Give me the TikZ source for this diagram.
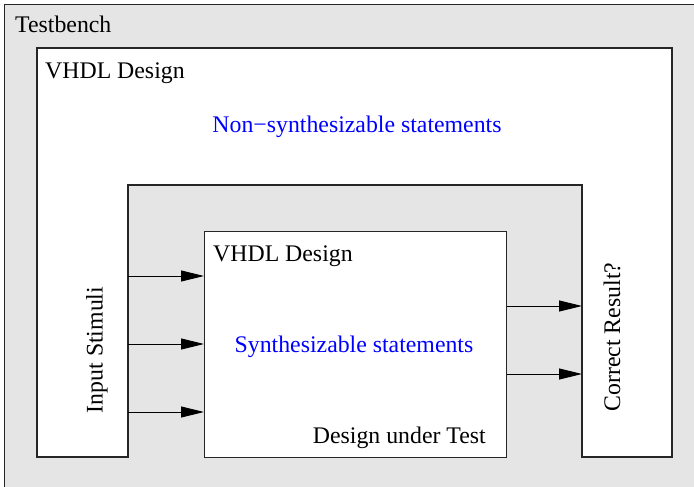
\documentclass[tikz,border=0pt]{standalone}
\usepackage{fontspec}
\setmainfont{Liberation Serif}
\usetikzlibrary{arrows.meta}
\definecolor{bggray}{HTML}{E5E5E5}
\definecolor{lblblue}{RGB}{0,0,255}
\begin{document}
\begin{tikzpicture}[x=1pt,y=-1pt,
  boxline/.style={draw=black!85, line width=1.1pt},
  lbl/.style={inner sep=0pt, font=\fontsize{23.8}{28}\selectfont},
  bluelbl/.style={lbl, text=lblblue},
  sig/.style={draw=black, line width=1pt, -{Triangle[length=23pt,width=11pt]}}]
\useasboundingbox (0,0) rectangle (694,487);
% testbench (extends past the right and bottom edges)
\node[boxline, fill=bggray, minimum width=700pt, minimum height=495pt, anchor=north west, inner sep=0pt] (tb) at (4,4) {};
% outer VHDL design (U-shaped white area)
\coordinate (o1) at (37,48);
\coordinate (o2) at (672,48);
\coordinate (o3) at (672,457);
\coordinate (o4) at (582,457);
\coordinate (o5) at (582,185);
\coordinate (o6) at (128,185);
\coordinate (o7) at (128,457);
\coordinate (o8) at (37,457);
\draw[boxline, fill=white] (o1) -- (o2) -- (o3) -- (o4) -- (o5) -- (o6) -- (o7) -- (o8) -- cycle;
% design under test
\node[boxline, fill=white, minimum width=302pt, minimum height=226pt, anchor=north west, inner sep=0pt] (dut) at (204,231) {};
% labels
\node[lbl, anchor=base west] (ltb) at (15,33) {Testbench};
\node[lbl, anchor=base west] (lvo) at (45,79) {VHDL Design};
\node[bluelbl] (lns) at (357,127) {Non−synthesizable statements};
\node[lbl, anchor=base west] (lvi) at (213,261) {VHDL Design};
\node[bluelbl, anchor=base] (lsy) at (354,352) {Synthesizable statements};
\node[lbl, anchor=base east] (ldut) at (486,443) {Design under Test};
\node[lbl, rotate=90] (lin) at (97,350) {Input Stimuli};
\node[lbl, rotate=90] (lcr) at (612,337) {Correct Result?};
% signals
\coordinate (s1) at (128,276);
\coordinate (s2) at (128,344);
\coordinate (s3) at (128,412);
\coordinate (r1) at (582,306);
\coordinate (r2) at (582,374);
\draw[sig] (s1) -- (dut.west |- s1);
\draw[sig] (s2) -- (dut.west |- s2);
\draw[sig] (s3) -- (dut.west |- s3);
\draw[sig] (dut.east |- r1) -- (r1);
\draw[sig] (dut.east |- r2) -- (r2);
\end{tikzpicture}
\end{document}
